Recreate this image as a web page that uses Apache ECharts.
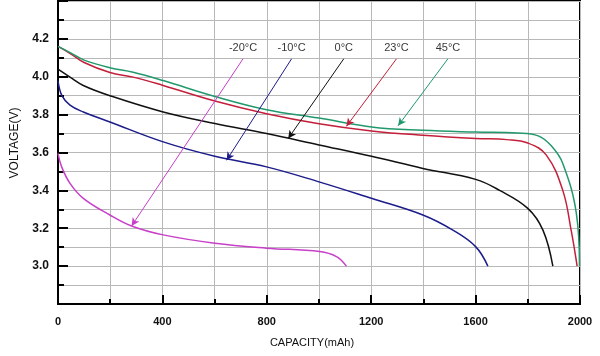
<!DOCTYPE html>
<html><head><meta charset="utf-8">
<script src="https://cdn.jsdelivr.net/npm/echarts@6/dist/echarts.min.js"></script>
<style>html,body{margin:0;padding:0;background:#fff}#c{width:600px;height:356px}</style>
</head><body><div id="c"></div>
<script>
// Discharge curves: [capacity mAh, voltage V]
const cap45 = [0, 50, 100, 199, 288, 403, 601, 799, 1000, 1201, 1398, 1600, 1760, 1840, 1890, 1934, 1986, 1998];
const v45   = [4.16, 4.125, 4.088, 4.048, 4.024, 3.98, 3.896, 3.826, 3.782, 3.735, 3.717, 3.708, 3.703, 3.688, 3.635, 3.542, 3.279, 3.0];
const cap23 = [0, 50, 100, 199, 288, 403, 601, 799, 1000, 1201, 1398, 1600, 1720, 1800, 1871, 1934, 1966, 1989];
const v23   = [4.16, 4.12, 4.075, 4.022, 3.998, 3.954, 3.872, 3.805, 3.752, 3.714, 3.691, 3.674, 3.668, 3.65, 3.586, 3.40, 3.19, 3.0];
const cap0  = [0, 46, 97, 199, 403, 601, 799, 1000, 1201, 1398, 1600, 1692, 1800, 1858, 1896];
const v0    = [4.04, 3.998, 3.954, 3.90, 3.814, 3.753, 3.70, 3.64, 3.58, 3.516, 3.458, 3.40, 3.305, 3.19, 3.0];
const capM10 = [0, 15, 46, 97, 199, 403, 601, 799, 1000, 1201, 1398, 1513, 1600, 1647];
const vM10   = [3.98, 3.90, 3.85, 3.814, 3.761, 3.656, 3.58, 3.524, 3.445, 3.358, 3.27, 3.19, 3.103, 3.0];
const capM20 = [0, 14, 46, 97, 199, 282, 403, 601, 799, 1003, 1067, 1105];
const vM20   = [3.595, 3.524, 3.437, 3.358, 3.27, 3.212, 3.165, 3.121, 3.095, 3.077, 3.05, 3.0];

const seriesNames = ['-20°C', '-10°C', '0°C', '23°C', '45°C'];
// annotation: label x position, arrow start, arrow end (data coords)
const labelX   = [709, 895, 1095, 1297, 1494];
const labelY   = 4.154;
const arrowFromX = [709, 895, 1095, 1297, 1494];
const arrowFromY = 4.095;
const arrowToX = [282, 646, 882, 1105, 1303];
const arrowToY = [3.212, 3.559, 3.674, 3.738, 3.741];

const colors = ['#c83fc8', '#1c1c8a', '#111111', '#c41f3a', '#22996c'];
const caps = [capM20, capM10, cap0, cap23, cap45];
const volts = [vM20, vM10, v0, v23, v45];

const zip = (a, b) => a.map((x, i) => [x, b[i]]);

const series = seriesNames.map((n, i) => ({
  name: n, type: 'line', data: zip(caps[i], volts[i]),
  smooth: 0.4, showSymbol: false, silent: true,
  lineStyle: { color: colors[i], width: 1.5 },
  markLine: {
    silent: true, symbol: ['none', 'arrow'], symbolSize: [6, 8],
    lineStyle: { color: colors[i], width: 1, type: 'solid' },
    label: { show: false },
    data: [[{ coord: [arrowFromX[i], arrowFromY] }, { coord: [arrowToX[i], arrowToY[i]] }]]
  }
}));
series.push({
  type: 'scatter', symbolSize: 0, silent: true,
  data: seriesNames.map((n, i) => ({ value: [labelX[i], labelY], name: n })),
  label: { show: true, position: 'inside', formatter: p => p.name,
    color: '#000', fontSize: 11, fontFamily: 'Arial, Liberation Sans, sans-serif' }
});

const chart = echarts.init(document.getElementById('c'), null, { renderer: 'canvas' });
chart.setOption({
  animation: false,
  backgroundColor: '#fff',
  grid: { left: 58, right: 20, top: 1, bottom: 52, show: true, borderColor: '#000', borderWidth: 2, backgroundColor: 'transparent' },
  xAxis: {
    type: 'value', min: 0, max: 2000, interval: 400,
    name: 'CAPACITY(mAh)', nameLocation: 'middle', nameGap: 33,
    nameTextStyle: { fontFamily: 'Liberation Sans Narrow, Arial, sans-serif', fontSize: 11, color: '#111', padding: [0, 14, 0, 0] },
    axisLine: { show: true, lineStyle: { color: '#000', width: 2 } },
    axisTick: { show: true, inside: true, length: 9, lineStyle: { color: '#000', width: 2 } },
    minorTick: { show: true, splitNumber: 2, length: 5, lineStyle: { color: '#000', width: 2 } },
    axisLabel: { margin: 12, fontSize: 11, fontWeight: 'bold', color: '#111', fontFamily: 'Arial, Liberation Sans, sans-serif',
      formatter: v => String(Math.round(v)) },
    splitLine: { show: true, lineStyle: { color: '#b8b8b8', width: 1 } },
    minorSplitLine: { show: true, lineStyle: { color: '#b8b8b8', width: 1 } }
  },
  yAxis: {
    type: 'value', min: 2.8, max: 4.4, interval: 0.2,
    name: 'VOLTAGE(V)', nameLocation: 'middle', nameGap: 37,
    nameTextStyle: { fontFamily: 'Arial, Liberation Sans, sans-serif', fontSize: 12, color: '#111', padding: [0, 0, 0, 19] },
    axisLine: { show: true, lineStyle: { color: '#000', width: 2 } },
    axisTick: { show: true, inside: true, length: 10, lineStyle: { color: '#000', width: 2 } },
    minorTick: { show: true, splitNumber: 2, length: 6, lineStyle: { color: '#000', width: 2 } },
    axisLabel: { margin: 9, fontSize: 12, fontWeight: 'bold', color: '#111', fontFamily: 'Arial, Liberation Sans, sans-serif',
      formatter: v => { const t = Math.round(v * 10); return (t >= 30 && t <= 42) ? (t / 10).toFixed(1) : ''; } },
    splitLine: { show: true, lineStyle: { color: '#b8b8b8', width: 1 } },
    minorSplitLine: { show: true, lineStyle: { color: '#b8b8b8', width: 1 } }
  },
  series: series
});
</script></body></html>
